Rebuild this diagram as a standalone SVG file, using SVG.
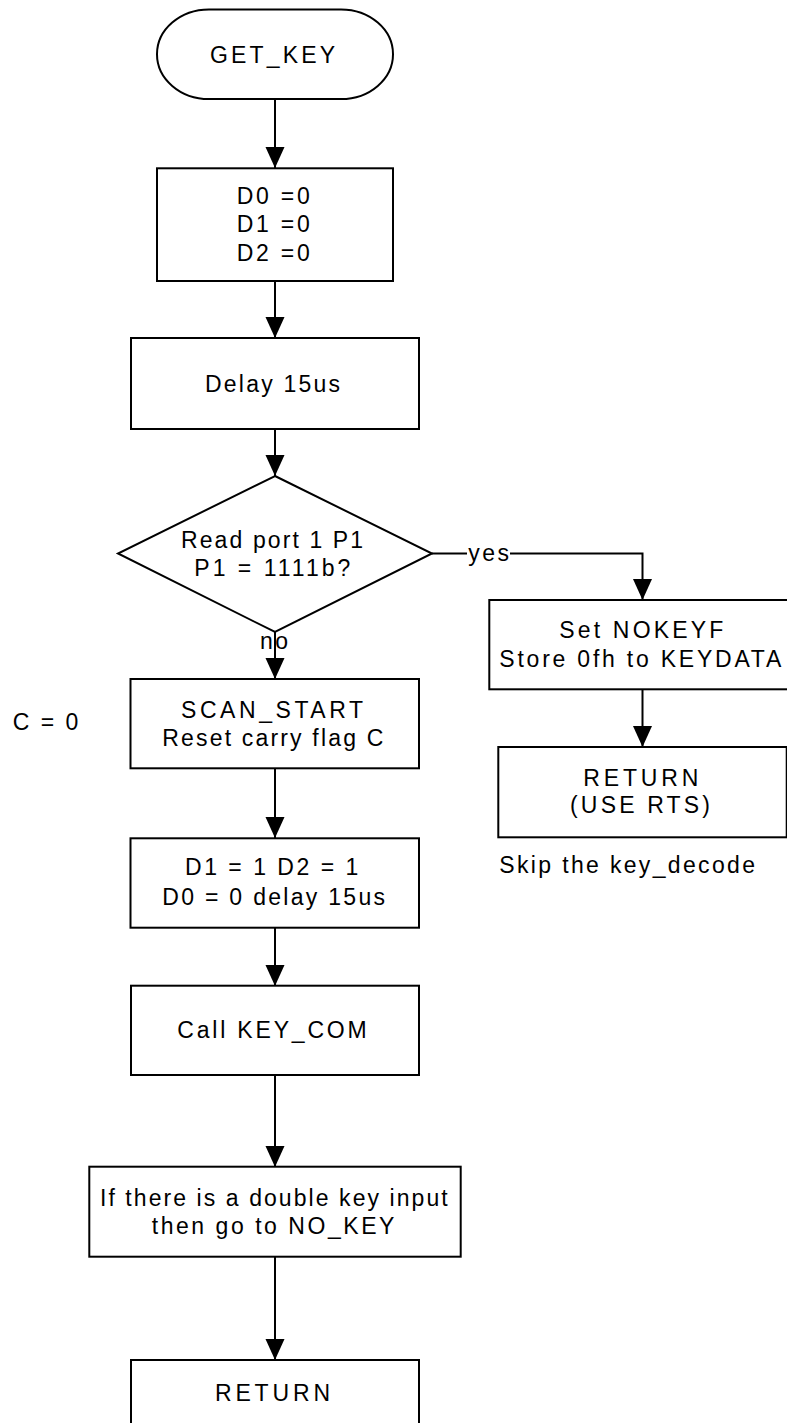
<svg xmlns="http://www.w3.org/2000/svg" width="787" height="1423" viewBox="0 0 787 1423">
<style>
.s{fill:#fff;stroke:#000;stroke-width:2}
.c{fill:none;stroke:#000;stroke-width:2}
text{font-family:"Liberation Sans",Arial,sans-serif;font-size:23px;fill:#000}
</style>
<defs>
<marker id="ah" markerUnits="userSpaceOnUse" markerWidth="22" markerHeight="20" refX="21" refY="9.5" orient="auto" viewBox="0 0 22 20">
<path d="M0,0 L21,9.5 L0,19 z" fill="#000"/>
</marker>
</defs>
<rect width="787" height="1423" fill="#fff"/>
<g id="connectors">
<line class="c" x1="275" y1="99" x2="275" y2="168" marker-end="url(#ah)"/>
<line class="c" x1="275" y1="281" x2="275" y2="338" marker-end="url(#ah)"/>
<line class="c" x1="275" y1="429" x2="275" y2="476" marker-end="url(#ah)"/>
<line class="c" x1="275" y1="632" x2="275" y2="679" marker-end="url(#ah)"/>
<line class="c" x1="275" y1="768" x2="275" y2="838" marker-end="url(#ah)"/>
<line class="c" x1="275" y1="928" x2="275" y2="986" marker-end="url(#ah)"/>
<line class="c" x1="275" y1="1075" x2="275" y2="1167" marker-end="url(#ah)"/>
<line class="c" x1="275" y1="1257" x2="275" y2="1360" marker-end="url(#ah)"/>
<line class="c" x1="432" y1="553.5" x2="467" y2="553.5"/>
<polyline class="c" points="510,553.5 642.5,553.5 642.5,600" marker-end="url(#ah)"/>
<line class="c" x1="642.5" y1="689" x2="642.5" y2="747" marker-end="url(#ah)"/>
<text x="468.3" y="561" textLength="40.7" lengthAdjust="spacing">yes</text>
<text x="260" y="649" textLength="28" lengthAdjust="spacing">no</text>
</g>
<g id="n_get_key">
<rect class="s" x="157" y="9.5" width="236" height="89.5" rx="52" ry="44.75"/>
<text x="210" y="63" textLength="125" lengthAdjust="spacing">GET_KEY</text>
</g>
<g id="n_init">
<rect class="s" x="157" y="168.3" width="236" height="112.7"/>
<text x="236.7" y="204" textLength="73" lengthAdjust="spacing">D0 =0</text>
<text x="236.7" y="232.3" textLength="73" lengthAdjust="spacing">D1 =0</text>
<text x="236.7" y="260.7" textLength="73" lengthAdjust="spacing">D2 =0</text>
</g>
<g id="n_delay">
<rect class="s" x="131" y="338" width="288" height="91"/>
<text x="205" y="391.7" textLength="135" lengthAdjust="spacing">Delay 15us</text>
</g>
<g id="n_read">
<polygon class="s" points="275,476 432,553.5 275,632 118,553.5"/>
<text x="181" y="548" textLength="182" lengthAdjust="spacing">Read port 1 P1</text>
<text x="194.3" y="576" textLength="156" lengthAdjust="spacing">P1 = 1111b?</text>
</g>
<g id="n_nokey">
<rect class="s" x="489.3" y="600" width="310" height="89.3"/>
<text x="559.3" y="638.3" textLength="164" lengthAdjust="spacing">Set NOKEYF</text>
<text x="499.3" y="667.3" textLength="282" lengthAdjust="spacing">Store 0fh to KEYDATA</text>
</g>
<g id="n_return_rts">
<rect class="s" x="498.3" y="747" width="288.4" height="90.3"/>
<text x="583.3" y="786" textLength="115" lengthAdjust="spacing">RETURN</text>
<text x="570" y="813.3" textLength="140" lengthAdjust="spacing">(USE RTS)</text>
</g>
<g id="n_skip_note">
<text x="499.3" y="872.7" textLength="255.7" lengthAdjust="spacing">Skip the key_decode</text>
</g>
<g id="n_c_note">
<text x="12.7" y="730" textLength="65.6" lengthAdjust="spacing">C = 0</text>
</g>
<g id="n_scan_start">
<rect class="s" x="130.5" y="679" width="288.5" height="89.3"/>
<text x="181" y="718.3" textLength="182" lengthAdjust="spacing">SCAN_START</text>
<text x="162.3" y="746" textLength="221" lengthAdjust="spacing">Reset carry flag C</text>
</g>
<g id="n_set_d">
<rect class="s" x="130.5" y="838.3" width="288.5" height="89.4"/>
<text x="185" y="875" textLength="173.3" lengthAdjust="spacing">D1 = 1 D2 = 1</text>
<text x="162.3" y="905" textLength="222.7" lengthAdjust="spacing">D0 = 0 delay 15us</text>
</g>
<g id="n_call">
<rect class="s" x="131" y="985.7" width="288" height="89.3"/>
<text x="177.3" y="1038.3" textLength="189.4" lengthAdjust="spacing">Call KEY_COM</text>
</g>
<g id="n_double">
<rect class="s" x="89.3" y="1166.7" width="371.4" height="90"/>
<text x="100" y="1206" textLength="347.7" lengthAdjust="spacing">If there is a double key input</text>
<text x="151.7" y="1234.3" textLength="242.7" lengthAdjust="spacing">then go to NO_KEY</text>
</g>
<g id="n_return">
<rect class="s" x="131" y="1360" width="288" height="100"/>
<text x="215" y="1401" textLength="115" lengthAdjust="spacing">RETURN</text>
</g>
</svg>
